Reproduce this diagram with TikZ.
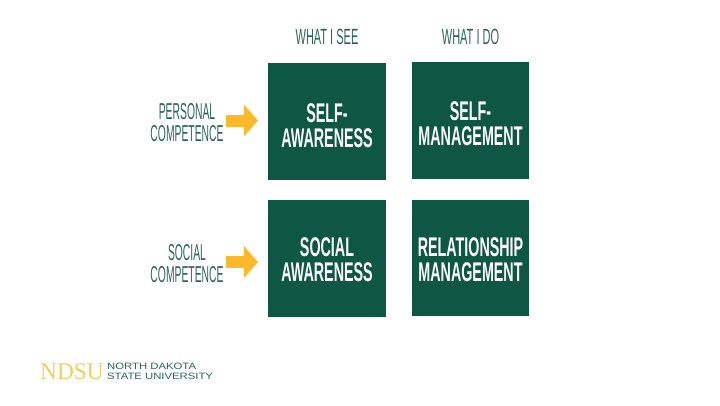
\documentclass[tikz,border=0pt]{standalone}
\usepackage{fontspec}
\setmainfont{Liberation Sans}
\newfontfamily\boldcond[FakeStretch=0.53]{Liberation Sans Bold}
\newfontfamily\thincond[FakeStretch=0.5]{Liberation Sans}
\newfontfamily\sidecond[FakeStretch=0.45]{Liberation Sans}
\newfontfamily\logoserif[FakeStretch=0.97]{Liberation Serif}
\newfontfamily\logosans[FakeStretch=1.23]{Liberation Sans}
\usetikzlibrary{arrows.meta}
\definecolor{ndsugreen}{HTML}{0F5745}
\definecolor{ndsuyellow}{HTML}{FDB92B}
\definecolor{logoyellow}{HTML}{F3CE5A}
\definecolor{labelgreen}{HTML}{2A6656}
\tikzset{
  x=1pt,y=-1pt,
  quad/.style={fill=ndsugreen,inner sep=0pt},
  quadtext/.style={text=white,inner sep=0pt,align=center,font=\boldcond\fontsize{27}{25}\selectfont},
  lab/.style={text=labelgreen,inner sep=0pt,align=center,font=\thincond\fontsize{22}{23}\selectfont},
  sidelab/.style={text=labelgreen,inner sep=0pt,align=center,font=\sidecond\fontsize{23}{22}\selectfont},
  yarrow/.style={draw=ndsuyellow,line width=12pt,-{Triangle[length=14pt,width=31pt,fill=ndsuyellow]}},
}
\begin{document}
\begin{tikzpicture}
\useasboundingbox (0,0) rectangle (720,405);
\node[quad,minimum width=118pt,minimum height=117pt] (sa) at (327,121.5) {};
\node[quad,minimum width=117pt,minimum height=117pt] (sm) at (470.5,120.5) {};
\node[quad,minimum width=118pt,minimum height=117pt] (soa) at (327,258.5) {};
\node[quad,minimum width=117pt,minimum height=116pt] (rm) at (470.5,258) {};
\node[quadtext] (tsa) at (327,125.5) {SELF-\\AWARENESS};
\node[quadtext] (tsm) at (470.5,123.5) {SELF-\\MANAGEMENT};
\node[quadtext] (tsoa) at (327,260) {SOCIAL\\AWARENESS};
\node[quadtext] (trm) at (470.5,260) {RELATIONSHIP\\MANAGEMENT};
\node[lab] (see) at (327,36.5) {WHAT I SEE};
\node[lab] (do) at (470.5,36.5) {WHAT I DO};
\node[sidelab] (pc) at (187,122.5) {PERSONAL\\COMPETENCE};
\node[sidelab] (sc) at (187,263.5) {SOCIAL\\COMPETENCE};
\coordinate (p1) at (226,120.5);
\coordinate (p2) at (258,120.5);
\coordinate (s1) at (226,262);
\coordinate (s2) at (258,262);
\draw[yarrow] (p1) -- (p2);
\draw[yarrow] (s1) -- (s2);
\node[anchor=west,inner sep=0pt,text=logoyellow,font=\logoserif\fontsize{24}{24}\selectfont] (ndsu) at (40,371.5) {NDSU};
\node[anchor=west,inner sep=0pt,text=labelgreen,align=left,font=\logosans\fontsize{9.2}{9.8}\selectfont] (nd) at (107,371.5) {NORTH DAKOTA\\STATE UNIVERSITY};
\end{tikzpicture}
\end{document}
